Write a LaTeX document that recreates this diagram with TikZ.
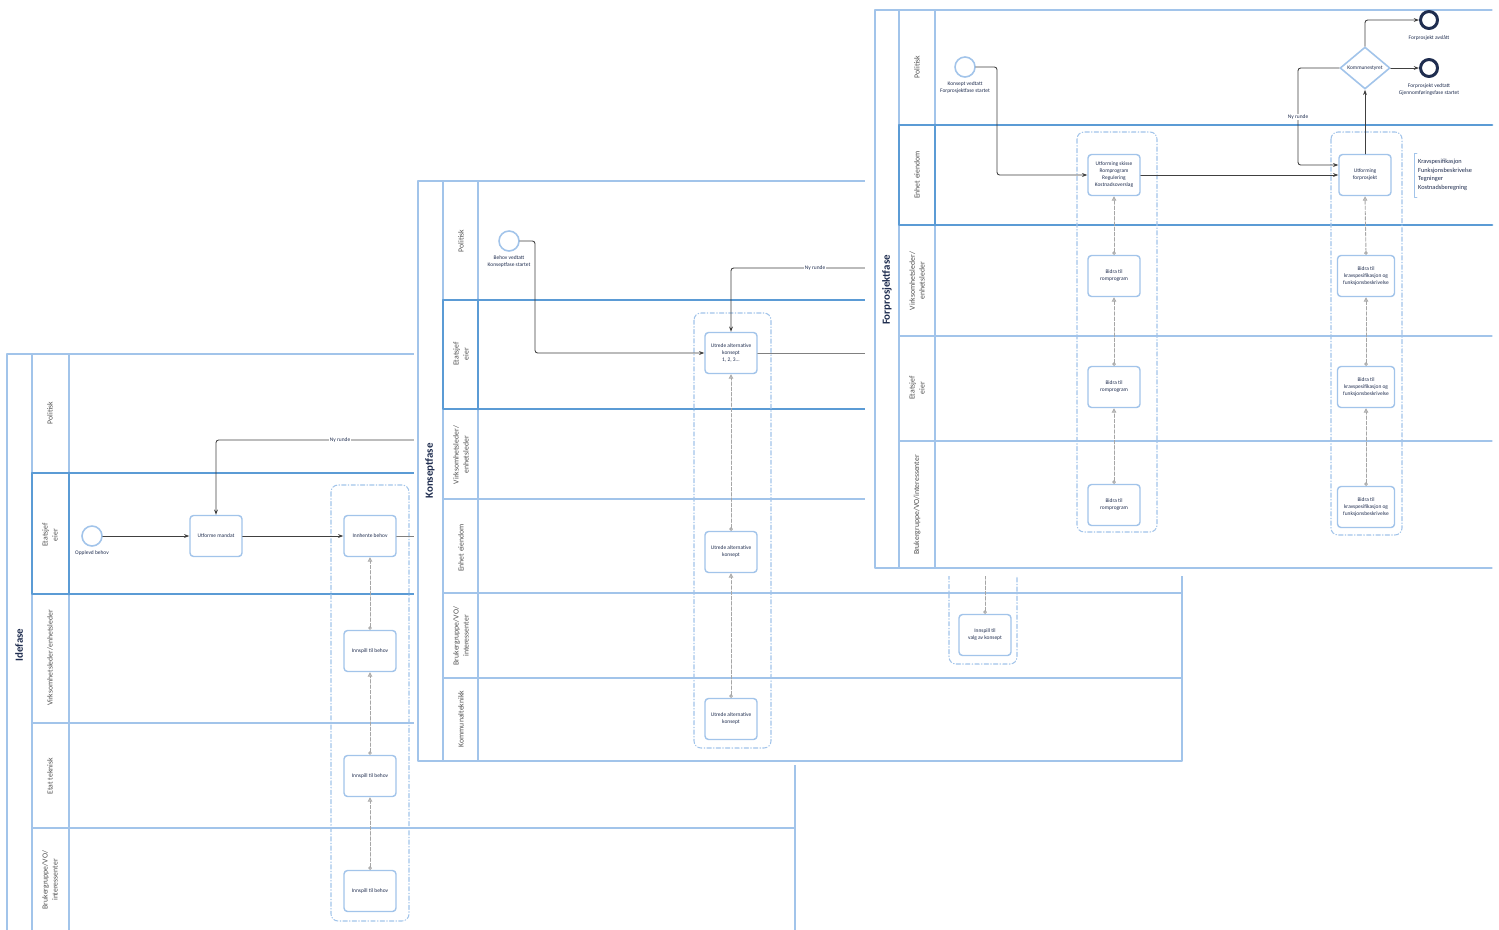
\documentclass[tikz,border=0pt]{standalone}
\usepackage{fontspec}
\setmainfont{Carlito}
\usetikzlibrary{arrows.meta,shapes.geometric}
\definecolor{lane}{HTML}{A2C4EA}
\definecolor{lanedark}{HTML}{5B9BD5}
\definecolor{flowgray}{HTML}{404040}
\definecolor{msggray}{HTML}{A6A6A6}
\definecolor{navy}{HTML}{1F2D4F}
\definecolor{labelgray}{HTML}{505050}

\begin{document}
\begin{tikzpicture}[x=0.2mm,y=-0.2mm,line cap=round,line join=round,
  >={Stealth[length=3pt,width=2.2pt]},
  every node/.style={inner sep=1pt},
  lanes/.style={draw=lane,line width=0.7pt},
  thicklane/.style={draw=lanedark,line width=1.6pt},
  pooltitle/.style={rotate=90,font=\fontsize{6.2}{7}\selectfont\bfseries,text=navy},
  lanelabel/.style={rotate=90,align=center,font=\fontsize{4.4}{5.6}\selectfont,text=labelgray},
  taskbox/.style={draw=lane,line width=0.8pt,rounded corners=2pt,fill=white,minimum width=10.4mm,
    minimum height=8.2mm,align=center,font=\fontsize{3.1}{4}\selectfont,text=navy},
  startevent/.style={circle,draw=lane,line width=0.9pt,fill=white,minimum size=4mm,inner sep=0pt},
  endevent/.style={circle,draw=navy,line width=1.7pt,fill=white,minimum size=3.4mm,inner sep=0pt},
  evlabel/.style={font=\fontsize{3.1}{3.9}\selectfont,text=navy,align=center},
  nyrunde/.style={font=\fontsize{3.1}{3.9}\selectfont,text=navy,fill=white,inner sep=0.5pt},
  seqflow/.style={draw=flowgray,line width=0.5pt,->,rounded corners=1.5pt},
  utflow/.style={draw=gray,line width=0.5pt},
  msgflow/.style={draw=msggray,line width=0.5pt,dash pattern=on 2pt off 1pt,
    arrows={Circle[open,length=2pt,width=2pt]-Triangle[open,length=2.5pt,width=2.5pt]}},
  groupbox/.style={draw=lane,line width=0.6pt,dash pattern=on 2.5pt off 1.2pt on 0.4pt off 1.2pt,rounded corners=4pt}]
  \clip (0,0) rectangle (1499,929);

  % Idefase
  \draw[lanes] (7,354) rectangle (795,940);
  \draw[lanes] (32,354) -- (32,940);
  \draw[lanes] (69,354) -- (69,940);
  \foreach \y in {473,594,723,828} \draw[lanes] (32,\y) -- (795,\y);
  \draw[thicklane] (32,473) rectangle (795,594);
  \draw[thicklane] (69,473) -- (69,594);
  \node[pooltitle] (ideTitle) at (19,645) {Idefase};
  \node[lanelabel] (ideL1) at (50,413) {Politisk};
  \node[lanelabel] (ideL2) at (50,535) {Etatsjef\\eier};
  \node[lanelabel] (ideL3) at (50,658) {Virksomhetsleder/enhetsleder};
  \node[lanelabel] (ideL4) at (50,776) {Etat teknisk};
  \node[lanelabel] (ideL5) at (50,880) {Brukergruppe/VO/\\interessenter};

  \draw[groupbox] (331,485) rectangle (409,921);
  \node[startevent] (ideStart) at (92,536) {};
  \node[evlabel,below=0.4mm] (ideStartLbl) at (ideStart.south) {Opplevd behov};
  \node[taskbox] (ideMandat) at (216,536) {Utforme mandat};
  \node[taskbox] (ideInnhente) at (370,536) {Innhente behov};
  \node[taskbox] (ideInnspillA) at (370,651) {Innspill til behov};
  \node[taskbox] (ideInnspillB) at (370,776) {Innspill til behov};
  \node[taskbox] (ideInnspillC) at (370,891) {Innspill til behov};
  \coordinate (ideNy) at (440,440);
  \coordinate (ideUt) at (440,536);
  \draw[seqflow] (ideStart) -- (ideMandat);
  \draw[seqflow] (ideMandat) -- (ideInnhente);
  \draw[utflow] (ideInnhente) -- (ideUt);
  \draw[seqflow] (ideNy) -| (ideMandat);
  \node[nyrunde] (ideNyLbl) at (340,440) {Ny runde};
  \draw[msgflow] (ideInnspillA.north) -- (ideInnhente.south);
  \draw[msgflow] (ideInnspillB.north) -- (ideInnspillA.south);
  \draw[msgflow] (ideInnspillC.north) -- (ideInnspillB.south);

  % Konseptfase
  \fill[white] (414,177) rectangle (1190,765);
  \draw[lanes] (418,181) rectangle (1182,761);
  \draw[lanes] (443,181) -- (443,761);
  \draw[lanes] (478,181) -- (478,761);
  \foreach \y in {300,409,499,593,678} \draw[lanes] (443,\y) -- (1182,\y);
  \draw[thicklane] (443,300) rectangle (1182,409);
  \draw[thicklane] (478,300) -- (478,409);
  \node[pooltitle] (konTitle) at (430,471) {Konseptfase};
  \node[lanelabel] (konL1) at (461,241) {Politisk};
  \node[lanelabel] (konL2) at (461,354) {Etatsjef\\eier};
  \node[lanelabel] (konL3) at (461,455) {Virksomhetsleder/\\enhetsleder};
  \node[lanelabel] (konL4) at (461,548) {Enhet eiendom};
  \node[lanelabel] (konL5) at (461,636) {Brukergruppe/VO/\\interessenter};
  \node[lanelabel] (konL6) at (461,719) {Kommunalteknikk};

  \draw[groupbox] (694,313) rectangle (771,748);
  \draw[groupbox] (949,540) rectangle (1017,664);
  \node[startevent] (konStart) at (509,241) {};
  \node[evlabel,below=0.4mm] (konStartLbl) at (konStart.south) {Behov vedtatt\\Konseptfase startet};
  \node[taskbox] (konUtredeA) at (731,353) {Utrede alternative\\konsept\\1, 2, 3...};
  \node[taskbox] (konUtredeB) at (731,552) {Utrede alternative\\konsept};
  \node[taskbox] (konUtredeC) at (731,719) {Utrede alternative\\konsept};
  \node[taskbox] (konValg) at (985,635) {Innspill til\\valg av konsept};
  \coordinate (konKnekk) at (535,241);
  \coordinate (konNy) at (900,268);
  \coordinate (konUt) at (900,353);
  \coordinate (konValgOpp) at (985,540);
  \draw[seqflow] (konStart) -- (konKnekk) |- (konUtredeA);
  \draw[seqflow] (konNy) -| (konUtredeA);
  \draw[utflow] (konUtredeA) -- (konUt);
  \node[nyrunde] (konNyLbl) at (815,268) {Ny runde};
  \draw[msgflow] (konUtredeB.north) -- (konUtredeA.south);
  \draw[msgflow] (konUtredeC.north) -- (konUtredeB.south);
  \draw[msgflow] (konValg.north) -- (konValgOpp);

  % Forprosjektfase
  \fill[white] (865,0) rectangle (1499,576);
  \draw[lanes] (1492,10) -- (875,10) -- (875,568) -- (1492,568);
  \draw[lanes] (899,10) -- (899,568);
  \draw[lanes] (935,10) -- (935,568);
  \foreach \y in {125,225,336,441} \draw[lanes] (899,\y) -- (1492,\y);
  \draw[thicklane] (1492,125) -- (899,125) -- (899,225) -- (1492,225);
  \draw[thicklane] (935,125) -- (935,225);
  \node[pooltitle] (forTitle) at (887,290) {Forprosjektfase};
  \node[lanelabel] (forL1) at (917,67) {Politisk};
  \node[lanelabel] (forL2) at (917,175) {Enhet eiendom};
  \node[lanelabel] (forL3) at (917,281) {Virksomhetsleder/\\enhetsleder};
  \node[lanelabel] (forL4) at (917,388) {Etatsjef\\eier};
  \node[lanelabel] (forL5) at (917,505) {Brukergruppe/VO/interessenter};

  \draw[groupbox] (1077,132) rectangle (1157,532);
  \draw[groupbox] (1331,132) rectangle (1402,535);
  \node[startevent] (forStart) at (965,67) {};
  \node[evlabel,below=0.4mm] (forStartLbl) at (forStart.south) {Konsept vedtatt\\Forprosjektfase startet};
  \node[taskbox] (forSkisse) at (1114,175) {Utforming skisse\\Romprogram\\Regulering\\Kostnadsoverslag};
  \node[taskbox] (forUtforming) at (1365,175) {Utforming\\forprosjekt};
  \foreach \n/\y in {A/276,B/387,C/505}
    \node[taskbox] (forRom\n) at (1114,\y) {Bidra til\\romprogram};
  \foreach \n/\y in {A/276,B/387,C/507}
    \node[taskbox,minimum width=11.4mm] (forKrav\n) at (1366,\y) {Bidra til\\kravspesifikasjon og\\funksjonsbeskrivelse};
  \node[diamond,draw=lane,line width=0.9pt,fill=white,aspect=1.2,minimum width=10mm,minimum height=8.4mm,
    inner sep=0pt,font=\fontsize{3.1}{4}\selectfont,text=navy] (forKommune) at (1365,68) {Kommunestyret};
  \node[endevent] (forAvslag) at (1429,20) {};
  \node[endevent] (forVedtatt) at (1429,68) {};
  \node[evlabel,below=0.8mm] (forAvslagLbl) at (forAvslag.south) {Forprosjekt avslått};
  \node[evlabel,below=0.8mm] (forVedtattLbl) at (forVedtatt.south) {Forprosjekt vedtatt\\Gjennomføringsfase startet};
  \coordinate (forKnekk) at (997,67);
  \coordinate (forReturA) at (1298,68);
  \coordinate (forReturB) at (1298,165);
  \draw[seqflow] (forStart) -- (forKnekk) |- (forSkisse);
  \draw[seqflow] (forSkisse) -- (forUtforming);
  \draw[seqflow] (forUtforming) -- (forKommune);
  \draw[seqflow] (forKommune.north) |- (forAvslag);
  \draw[seqflow] (forKommune) -- (forVedtatt);
  \draw[seqflow] (forKommune) -- (forReturA) -- (forReturB) -- (forUtforming.west |- forReturB);
  \node[nyrunde] (forNyLbl) at (1298,117) {Ny runde};
  \draw[msgflow] (forRomA.north) -- (forSkisse.south);
  \draw[msgflow] (forRomB.north) -- (forRomA.south);
  \draw[msgflow] (forRomC.north) -- (forRomB.south);
  \draw[msgflow] (forKravA.north) -- (forUtforming.south);
  \draw[msgflow] (forKravB.north) -- (forKravA.south);
  \draw[msgflow] (forKravC.north) -- (forKravB.south);

  % merknad
  \draw[lanes,line width=0.5pt] (1417,153) -- (1414,153) -- (1414,197) -- (1417,197);
  \node[anchor=west,align=left,font=\fontsize{3.6}{4.9}\selectfont,text=navy] (forMerknad) at (1416,175)
    {Kravspesifikasjon\\Funksjonsbeskrivelse\\Tegninger\\Kostnadsberegning};
\end{tikzpicture}
\end{document}
